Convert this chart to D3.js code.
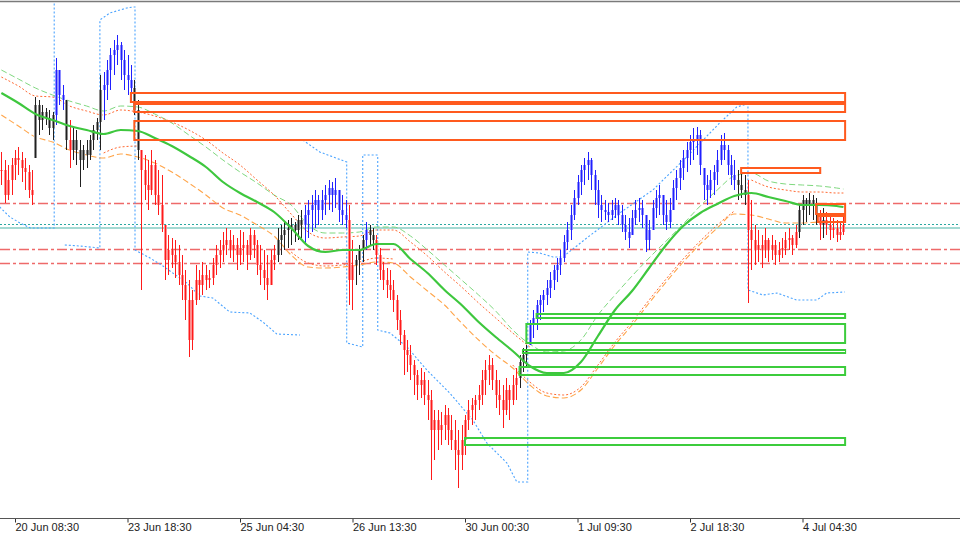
<!DOCTYPE html>
<html><head><meta charset="utf-8">
<script src="https://cdn.jsdelivr.net/npm/d3@7"></script>
<style>html,body{margin:0;padding:0;background:#fff;} svg{display:block;}</style>
</head><body>
<svg id="c" width="960" height="540"></svg>
<script>
// ---------- DATA ----------
const tickIdx = [4, 37, 70, 103, 136, 169, 202, 235];
const tickLabels = ["20 Jun 08:30", "23 Jun 18:30", "25 Jun 04:30", "26 Jun 13:30", "30 Jun 00:30", "1 Jul 09:30", "2 Jul 18:30", "4 Jul 04:30"];

const highs = [448,440,435,442,450,453,448,442,435,430,
503,500,495,492,490,488,542,530,515,500,
480,472,470,460,455,460,465,475,482,525,
528,540,552,560,565,558,550,545,535,520,
500,450,445,440,450,440,430,425,375,365,
362,360,355,345,330,320,310,335,330,338,
335,330,342,355,360,368,372,370,365,362,
370,368,360,372,370,360,355,350,345,350,
355,372,375,378,380,382,378,385,390,395,
400,405,410,405,410,415,420,418,422,410,
405,400,395,360,345,355,365,378,375,372,
365,352,338,332,330,320,305,290,270,260,
255,240,230,232,228,220,210,190,190,188,
195,192,185,180,170,175,185,200,202,205,
215,230,240,245,242,230,220,215,222,215,
225,232,245,252,255,280,290,300,305,310,
320,328,335,342,350,365,378,395,410,425,
435,442,448,442,430,420,405,400,397,400,
402,400,395,385,382,390,400,402,400,385,
380,400,410,415,405,400,402,420,430,440,
450,458,465,472,473,470,432,425,430,435,
450,465,467,455,445,440,430,428,425,420,
400,375,370,365,372,362,365,360,358,362,
368,372,365,375,395,405,402,407,405,402,
390,392,388,385,382,380,378,385];

const lows = [415,397,400,405,420,425,418,410,402,395,
442,465,470,475,465,460,475,495,490,450,
432,440,435,413,430,432,440,450,460,450,
480,500,510,525,535,520,510,505,500,485,
440,310,400,390,405,395,385,368,320,325,
332,322,315,300,280,243,250,295,300,305,
310,312,315,325,332,338,345,342,338,330,
335,338,330,340,342,325,315,310,300,315,
330,338,345,350,352,355,358,360,362,355,
362,368,372,375,380,385,390,388,392,378,
375,372,295,290,315,325,338,350,355,350,
335,320,310,302,300,288,270,255,225,228,
220,205,200,202,195,180,120,140,150,155,
160,155,150,130,112,130,145,170,175,180,
190,195,205,215,210,192,185,172,185,180,
195,200,212,228,232,255,262,270,280,288,
295,302,310,318,325,338,350,360,380,395,
405,415,420,410,395,382,378,380,378,380,
382,375,368,360,352,365,375,378,372,348,
350,370,382,385,375,370,372,390,400,410,
420,428,435,440,445,425,400,395,402,405,
415,435,440,425,415,410,400,402,395,297,
330,335,338,332,342,338,340,335,338,342,
345,350,345,352,362,375,378,385,380,375,
360,362,365,360,362,358,360,365];

const closes = [430,405,420,435,442,440,432,428,410,405,
495,480,488,482,472,485,530,505,500,460,
450,460,450,440,450,445,460,470,478,510,
515,530,545,550,555,540,525,520,512,490,
450,430,415,410,435,405,395,375,340,350,
345,338,325,315,300,260,300,320,315,325,
320,322,335,345,350,355,360,350,355,345,
352,355,345,365,355,335,330,322,315,340,
345,360,365,370,372,375,370,380,375,385,
390,395,400,390,400,405,412,405,410,390,
385,380,320,335,340,350,360,370,365,360,
345,330,320,315,310,300,280,265,250,245,
235,225,215,220,205,200,170,180,170,175,
185,170,160,150,145,160,180,190,195,200,
205,220,230,235,220,205,200,190,210,200,
215,222,238,245,250,275,282,295,300,305,
312,320,330,335,342,358,370,385,402,418,
430,435,440,425,410,395,390,388,385,390,
395,385,375,368,362,382,390,392,385,360,
370,392,402,405,385,378,390,412,422,432,
442,450,458,460,465,435,415,410,420,428,
440,455,450,435,425,420,415,410,405,370,
360,350,355,350,360,350,355,345,350,352,
360,362,355,368,390,400,395,400,395,385,
375,380,375,370,372,365,368,375];

// trend state runs: [firstBar, lastBar, state]  d = down, u = up, n = neutral
const trendRuns = [[0,9,"d"],[10,15,"n"],[16,18,"u"],[19,19,"n"],[20,20,"d"],[21,29,"n"],
[30,38,"u"],[39,40,"n"],[41,80,"d"],[81,88,"n"],[89,101,"u"],[102,103,"d"],[104,106,"n"],
[107,107,"u"],[108,109,"n"],[110,151,"d"],[152,154,"n"],[155,215,"u"],[216,218,"n"],
[219,233,"d"],[234,239,"n"],[240,240,"d"],[241,241,"n"],[242,247,"d"]];

// band / moving-average samples (bar index -> price)
const bandIdx = [0,5,10,15,20,25,30,35,40,45,50,55,60,65,70,75,80,85,90,95,
100,105,110,115,120,125,130,135,140,145,150,155,160,165,170,175,180,185,190,195,
200,205,210,215,220,225,230,235,240,245,247];
const maLine = [507,497,486,480,474,470,466,470,469,462,
454,444,433,418,407,398,388,372,354,348,
350,350,356,356,341,327,310,295,278,263,
249,234,227,227,238,264,290,309,332,355,
374,387,396,404,407,403,399,395,395,394,393];
const upperOuter = [530,521,512,505,499,494,489,494,493,486,
477,465,453,440,428,417,405,395,375,367,
367,368,373,373,364,350,335,320,305,289,
270,256,248,249,260,285,305,324,342,359,
376,394,410,424,427,419,416,415,414,412,411];
const upperInner = [523,514,504,503,494,489,485,490,488,484,
478,470,460,447,435,420,405,386,368,362,
363,364,370,370,358,344,328,313,297,282,
267,253,null,null,null,null,null,null,null,null,
null,null,null,null,420,413,410,408,408,407,407];
const lowerInner = [null,null,null,null,null,null,447,453,454,null,
null,null,null,null,null,null,null,348,337,334,
335,338,342,341,null,null,null,null,null,null,
235,218,207,205,213,235,258,278,300,321,
341,359,375,389,null,null,null,null,null,null,null];
const lowerOuter = [485,474,463,458,450,445,442,446,443,437,
428,417,405,392,385,375,364,345,333,332,
333,335,338,337,323,309,295,277,260,245,
232,215,204,202,210,232,255,275,297,318,
338,356,372,386,385,381,377,377,378,378,378];

// dotted trailing-stop line, segments of [barIndex, price]
const stopSegments = [
  [[-0.5,393],[2.5,383],[5.5,377],[8.5,372],[15.5,372],[15.5,610]],
  [[18.6,355],[23,354],[28.9,352],[28.9,580],[31.8,587],[36.8,592],[38.6,593],[39.2,593],[39.2,350],
   [43.6,342],[47.4,334],[54.4,317],[58.2,304],[62,302],[67,288],[72.9,287],[76.7,278],[80.8,266],[87.6,265]],
  [[88.4,460],[93.4,448],[101.3,438],[101.3,257],[106,253],[106,445],[110.4,445],[110.4,270],[114,267],
   [119,253],[124.8,230],[131.5,207],[138.3,180],[142.4,157],[148.3,137],[151.2,118],[154.4,118],
   [154.4,348],[157.9,347],[161.8,343],[164.7,343],[171.7,362],[181.4,387],[191.1,410],[201,443],
   [210.7,477],[215.7,493],[218.7,496],[219,496],[219,310],[223.4,305],[227.5,307],[233.3,300],
   [239.2,300],[242.1,307],[247.4,308]]
];

// horizontal levels (price)
const levelsDashDot = [397, 351, 337];
const levelsDotted = [376];
const levelsSolid = [372];

// zones: [startBar, endBar, topPrice, bottomPrice]
const supplyZones = [[38,247.5,507,498],[39,247.5,496,488],[39,247.5,479,460],
  [217,240.2,432,427],[239,247.5,396,386],[239.5,247.5,384,378]];
const demandZones = [[157,247.5,286,282],[154,247.5,276,257],[153,247.5,250,247],
  [152,247.5,233,225],[136,247.5,162,155]];

// ---------- CHART ----------
const svg = d3.select("#c");
const x = d3.scaleLinear().domain([4, 235]).range([15, 802.5]);
const y = d3.scaleLinear().domain([81, 598]).range([519, 2]);

svg.append("defs").append("clipPath").attr("id", "plot")
  .append("rect").attr("x", 0).attr("y", 3).attr("width", 960).attr("height", 515);
const g = svg.append("g").attr("clip-path", "url(#plot)");

// horizontal levels
g.selectAll(".lvDD").data(levelsDashDot).join("line")
  .attr("x1", 0).attr("x2", 960)
  .attr("y1", d => Math.round(y(d)) + 0.5).attr("y2", d => Math.round(y(d)) + 0.5)
  .attr("stroke", "#ee6a6a").attr("stroke-width", 1.3).attr("stroke-dasharray", "10,3,3,3");
g.selectAll(".lvDot").data(levelsDotted).join("line")
  .attr("x1", 0).attr("x2", 960)
  .attr("y1", d => Math.round(y(d)) + 0.5).attr("y2", d => Math.round(y(d)) + 0.5)
  .attr("stroke", "#2aa8a0").attr("stroke-width", 1).attr("stroke-dasharray", "2,2");
g.selectAll(".lvSolid").data(levelsSolid).join("line")
  .attr("x1", 0).attr("x2", 960)
  .attr("y1", d => y(d)).attr("y2", d => y(d))
  .attr("stroke", "#86ccc4").attr("stroke-width", 1.6);

// trailing stop dotted
const stopLine = d3.line().x(d => x(d[0])).y(d => y(d[1]));
g.selectAll(".stop").data(stopSegments).join("path")
  .attr("d", stopLine).attr("fill", "none")
  .attr("stroke", "#4aa3ff").attr("stroke-width", 1.1).attr("stroke-dasharray", "2,2");

// bands
function bandPath(vals, color, width, dash) {
  const pts = bandIdx.map((b, k) => [b, vals[k]]);
  const ln = d3.line().defined(d => d[1] !== null)
    .x(d => x(d[0])).y(d => y(d[1])).curve(d3.curveMonotoneX);
  g.append("path").attr("d", ln(pts)).attr("fill", "none")
    .attr("stroke", color).attr("stroke-width", width)
    .attr("stroke-dasharray", dash);
}
bandPath(upperOuter, "#7fd87f", 1, "6,3");
bandPath(upperInner, "#ff6a33", 1, "2,2");
bandPath(lowerInner, "#ff6a33", 1, "2,2");
bandPath(lowerOuter, "#ffa54a", 1.1, "6,3");

// bars
const state = new Array(highs.length).fill("n");
trendRuns.forEach(r => { for (let i = r[0]; i <= r[1]; i++) state[i] = r[2]; });
const lineCol = { d: "#ff1a1a", u: "#2020ff", n: "#202020" };
const bodyCol = { d: "#ff8e8e", u: "#8e8eff", n: "#8e8e8e" };
const bars = highs.map((h, i) => {
  const prev = i === 0 ? closes[0] : closes[i - 1];
  const o = Math.min(h, Math.max(lows[i], prev));
  return { i, h, l: lows[i], o, c: closes[i], s: state[i] };
});
const bg = g.append("g");
bg.selectAll("rect").data(bars).join("rect")
  .attr("x", d => Math.round(x(d.i)) - 1)
  .attr("width", 3)
  .attr("y", d => y(Math.max(d.o, d.c)))
  .attr("height", d => Math.max(1, Math.abs(y(d.o) - y(d.c))))
  .attr("fill", d => bodyCol[d.s]);
bg.selectAll("line").data(bars).join("line")
  .attr("x1", d => Math.round(x(d.i)) + 0.5).attr("x2", d => Math.round(x(d.i)) + 0.5)
  .attr("y1", d => y(d.h)).attr("y2", d => y(d.l))
  .attr("stroke", d => lineCol[d.s]).attr("stroke-width", 1);

// moving average
bandPath(maLine, "#3ec73e", 2.2, null);

// zones
function zones(data, color) {
  g.append("g").selectAll("rect").data(data).join("rect")
    .attr("x", d => x(d[0])).attr("width", d => x(d[1]) - x(d[0]))
    .attr("y", d => y(d[2])).attr("height", d => y(d[3]) - y(d[2]))
    .attr("fill", "none").attr("stroke", color).attr("stroke-width", 2);
}
zones(supplyZones, "#ff5a1e");
zones(demandZones, "#3ccc3c");

// frame
svg.append("line").attr("x1", 0).attr("x2", 960).attr("y1", 1.5).attr("y2", 1.5)
  .attr("stroke", "#7a7a7a").attr("stroke-width", 1.5);

// axis
const axis = d3.axisBottom(x).tickValues(tickIdx)
  .tickFormat((d, k) => tickLabels[k]).tickSize(4).tickPadding(1).tickSizeOuter(0);
const ag = svg.append("g").attr("transform", "translate(0,518.5)").call(axis);
ag.select(".domain").remove();
ag.selectAll(".tick line").attr("stroke", "#333");
ag.selectAll(".tick text").attr("text-anchor", "start").attr("x", 0)
  .attr("fill", "#222").style("font-family", "'Liberation Sans', Arial, sans-serif").style("font-size", "11px");
svg.append("line").attr("x1", 0).attr("x2", 960).attr("y1", 518.5).attr("y2", 518.5)
  .attr("stroke", "#555").attr("stroke-width", 1);
</script>
</body></html>
